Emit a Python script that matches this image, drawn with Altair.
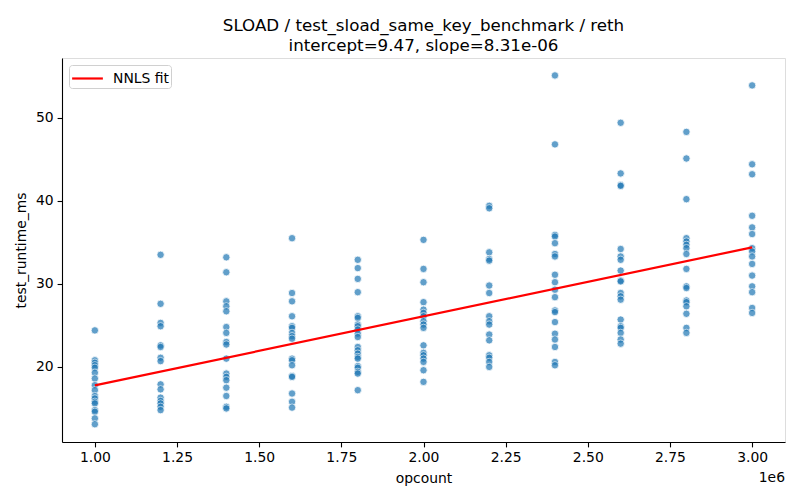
import altair as alt
import pandas as pd

opcounts = [1.0e6, 1.2e6, 1.4e6, 1.6e6, 1.8e6, 2.0e6, 2.2e6, 2.4e6, 2.6e6, 2.8e6, 3.0e6]
col_100 = [24.4, 20.8, 20.5, 20.2, 19.9, 19.3, 18.6, 17.8, 17.2, 16.5, 16.2, 15.8, 15.6, 14.8, 14.6, 13.8, 13.1]
col_120 = [33.5, 27.6, 25.3, 24.9, 22.6, 22.4, 21.1, 20.7, 17.9, 17.3, 16.3, 15.9, 15.6, 15.2, 14.8]
col_140 = [33.2, 31.4, 27.9, 27.3, 26.7, 24.8, 24.1, 23.0, 22.7, 21.0, 19.2, 18.8, 18.4, 17.5, 16.5, 15.2, 15.0]
col_160 = [35.5, 28.9, 27.9, 26.1, 24.9, 24.7, 24.1, 23.7, 23.4, 21.0, 20.8, 20.2, 18.9, 18.8, 16.8, 15.8, 15.1]
col_180 = [32.9, 31.9, 30.6, 29.0, 26.1, 25.9, 25.1, 24.9, 24.5, 24.0, 23.6, 22.4, 22.0, 21.6, 21.2, 21.0, 20.1, 19.9, 19.4, 19.2, 17.2]
col_200 = [35.3, 31.8, 30.2, 27.8, 26.9, 26.5, 26.1, 25.5, 25.1, 24.7, 22.6, 21.7, 21.4, 21.0, 20.6, 19.6, 18.2]
col_220 = [39.4, 39.1, 33.8, 33.0, 32.8, 29.8, 28.9, 26.1, 25.5, 25.1, 23.9, 23.2, 21.4, 21.1, 20.6, 20.0]
col_240 = [55.1, 46.8, 35.9, 35.7, 34.9, 33.6, 33.3, 31.1, 30.2, 29.3, 28.4, 26.8, 26.6, 25.4, 24.0, 23.3, 22.4, 20.6, 20.2]
col_260 = [49.4, 43.3, 41.9, 41.8, 34.2, 33.3, 32.9, 31.6, 30.4, 30.3, 28.9, 28.5, 28.1, 25.7, 24.9, 24.7, 24.1, 23.3, 22.8]
col_280 = [48.3, 45.1, 40.2, 35.5, 35.1, 34.7, 34.3, 33.6, 31.8, 29.7, 29.5, 28.0, 27.8, 27.3, 26.4, 24.7, 24.1]
col_300 = [53.9, 44.4, 43.2, 38.2, 36.8, 36.0, 34.3, 33.9, 33.3, 32.4, 31.0, 29.7, 29.0, 27.1, 26.5]
columns = [col_100, col_120, col_140, col_160, col_180, col_200, col_220, col_240, col_260, col_280, col_300]

fit_x = [1.0e6, 3.0e6]
fit_y = [17.78, 34.40]
fit_label = ["NNLS fit", "NNLS fit"]

x_ticks = [1.0e6, 1.25e6, 1.5e6, 1.75e6, 2.0e6, 2.25e6, 2.5e6, 2.75e6, 3.0e6]
y_ticks = [20, 30, 40, 50]

rows = []
for xv, ys in zip(opcounts, columns):
    for yv in ys:
        rows.append({"opcount": xv, "test_runtime_ms": yv})
pts = pd.DataFrame(rows)
fit = pd.DataFrame({"opcount": fit_x, "test_runtime_ms": fit_y, "label": fit_label})

W, H = 723, 384
FONT = "DejaVu Sans"

xscale = alt.Scale(domain=[0.9e6, 3.1e6], nice=False, zero=False)
yscale = alt.Scale(domain=[10.96, 57.2], nice=False, zero=False)

xaxis = alt.Axis(values=x_ticks, labelExpr="format(datum.value/1e6, '.2f')", title="opcount",
                 grid=False, tickSize=4.9, tickWidth=1.1, tickColor="black", domainColor="black",
                 domainWidth=1.1, labelPadding=4, labelFontSize=13.9, titleFontSize=13.9,
                 labelColor="black", titleColor="black", titleFontWeight="normal", labelFont=FONT,
                 titleFont=FONT, titlePadding=7, labelFlush=False)
yaxis = alt.Axis(values=y_ticks, title="test_runtime_ms", grid=False, tickSize=4.9, tickWidth=1.1,
                 tickColor="black", domainColor="black", domainWidth=1.1, labelPadding=4,
                 labelFontSize=13.9, titleFontSize=13.9, labelColor="black", titleColor="black",
                 titleFontWeight="normal", labelFont=FONT, titleFont=FONT, titlePadding=7, labelFlush=False)

points = alt.Chart(pts).mark_circle(size=55, opacity=0.7, color="#1f77b4", stroke="white",
                                     strokeWidth=0.8).encode(
    x=alt.X("opcount:Q", scale=xscale, axis=xaxis),
    y=alt.Y("test_runtime_ms:Q", scale=yscale, axis=yaxis),
)

line = alt.Chart(fit).mark_line(strokeWidth=2.2).encode(
    x=alt.X("opcount:Q", scale=xscale),
    y=alt.Y("test_runtime_ms:Q", scale=yscale),
    color=alt.Color("label:N", scale=alt.Scale(domain=["NNLS fit"], range=["red"]),
                    legend=alt.Legend(title=None, orient="top-left", offset=7, padding=2,
                                      strokeColor="#d0d0d0", fillColor="white", cornerRadius=3,
                                      symbolType="M-1.5,0H1.5", symbolSize=420, symbolStrokeWidth=2.2,
                                      symbolOffset=5,
                                      labelFontSize=13.9, labelFont=FONT, labelColor="black",
                                      labelOffset=14)),
)

offset_text = alt.Chart(pd.DataFrame({"t": ["1e6"]})).mark_text(
    align="right", baseline="middle", fontSize=13.9, font=FONT, color="black"
).encode(x=alt.value(W), y=alt.value(H + 36), text="t:N")

chart = alt.layer(points, line, offset_text).properties(
    width=W, height=H,
    title=alt.TitleParams(["SLOAD / test_sload_same_key_benchmark / reth",
                           "intercept=9.47, slope=8.31e-06"],
                          fontSize=16.7, font=FONT, fontWeight="normal", anchor="middle",
                          color="black", lineHeight=20, offset=3),
    autosize=alt.AutoSizeParams(type="none"),
    padding={"left": 54, "top": 50, "right": 7, "bottom": 50},
).configure_view(stroke="black", strokeWidth=1.1).configure(background="white")

chart.save("out.html", embed_options={"renderer": "svg", "actions": False})
